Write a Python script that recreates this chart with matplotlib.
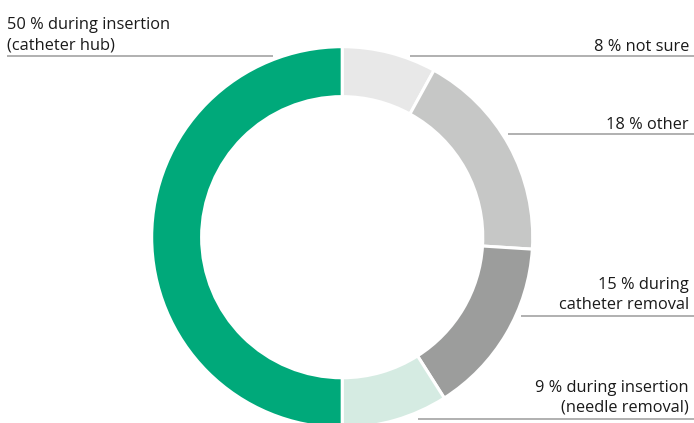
import matplotlib
matplotlib.use('Agg')
import matplotlib.pyplot as plt

# data, clockwise from 12 o'clock
labels = ['8 % not sure', '18 % other', '15 % during\ncatheter removal',
          '9 % during insertion\n(needle removal)', '50 % during insertion\n(catheter hub)']
shares = [8, 18, 15, 9, 50]
colors = ['#e8e8e8', '#c6c7c6', '#9c9d9c', '#d5ebe2', '#00a97a']

# leader line heights (pixels from top) and where each line starts / ends
line_y = [56, 134, 316, 419, 56]
line_x = [(410, 694), (508, 694), (521, 694), (418, 694), (7, 273)]
text_gap = [5, 5, 7, 7, 7]

W, H = 694, 423
fig = plt.figure(figsize=(W / 100, H / 100), dpi=100)
plt.rcParams['font.family'] = ['Open Sans', 'DejaVu Sans']

# donut: centre (342, 237) px, radius 190.5 px
cx, cy, r = 342.2, 237.2, 190.5
ax = fig.add_axes([(cx - r) / W, (H - cy - r) / H, 2 * r / W, 2 * r / H])
ax.pie(shares, colors=colors, startangle=90, counterclock=False, radius=1,
       wedgeprops=dict(width=0.262, edgecolor='white', linewidth=2.2))
ax.set_xlim(-1, 1)
ax.set_ylim(-1, 1)
ax.set_aspect('equal')
ax.axis('off')

# overlay in pixel coords for labels
ov = fig.add_axes([0, 0, 1, 1])
ov.set_xlim(0, W)
ov.set_ylim(H, 0)
ov.axis('off')

for i, lab in enumerate(labels):
    y = line_y[i]
    x0, x1 = line_x[i]
    ov.plot([x0, x1], [y, y], color='#a3a3a3', lw=1.2, solid_capstyle='butt')
    if i == len(labels) - 1:
        ov.text(7, y - text_gap[i], lab, ha='left', va='baseline', fontsize=11.8,
                color='#1a1a1a', linespacing=1.32)
    else:
        ov.text(689, y - text_gap[i], lab, ha='right', va='baseline', fontsize=11.8,
                color='#1a1a1a', linespacing=1.32, multialignment='right')

fig.savefig('out.png', dpi=100, facecolor='white')
